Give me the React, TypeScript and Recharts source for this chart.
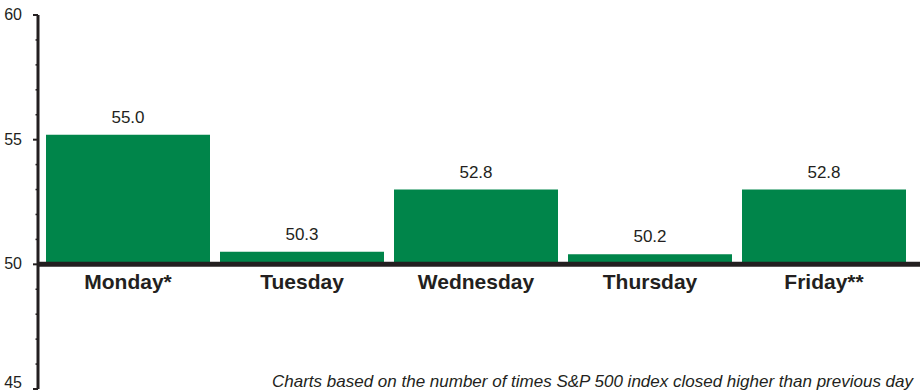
import { Bar, BarChart, LabelList, ReferenceLine, XAxis, YAxis } from "recharts"

const days = ["Monday*", "Tuesday", "Wednesday", "Thursday", "Friday**"]
const pctHigher = [55.0, 50.3, 52.8, 50.2, 52.8]
const yTicks = [45, 46, 47, 48, 49, 50, 51, 52, 53, 54, 55, 56, 57, 58, 59, 60]
const note =
  "Charts based on the number of times S&P 500 index closed higher than previous day"

const data = days.map((day, i) => ({ day, value: pctHigher[i] }))

// bars in the source sit a little above the 50 line
const LIFT = 0.2
const INK = "#231f20"
const GREEN = "#00854a"
const FONT = "'Liberation Sans', Arial, Helvetica, sans-serif"

const YTick = (props: any) => {
  const { x, y, payload } = props
  const major = payload.value % 5 === 0
  // keep the bottom label inside the frame
  const dy = payload.value === 45 ? -1 : 5
  return (
    <g>
      <line
        x1={x - (major ? 5 : 2.5)}
        x2={x}
        y1={y}
        y2={y}
        stroke={INK}
        strokeWidth={major ? 2 : 1.5}
      />
      {major && (
        <text
          x={x - 16}
          y={y}
          dy={dy}
          textAnchor="end"
          fontSize={16}
          fill={INK}
          fontFamily={FONT}
        >
          {payload.value}
        </text>
      )}
    </g>
  )
}

const App = () => {
  return (
    <div
      style={{
        position: "absolute",
        left: 0,
        top: 0,
        width: 920,
        height: 392,
        overflow: "hidden",
        background: "#fff",
        fontFamily: FONT
      }}
    >
      <BarChart
        width={920}
        height={392}
        data={data}
        margin={{ top: 15, right: 0, bottom: 3, left: 0 }}
        barCategoryGap={5}
      >
        <XAxis dataKey="day" hide padding={{ left: 3, right: 9 }} />
        <YAxis
          width={38}
          domain={[45, 60]}
          ticks={yTicks}
          interval={0}
          tickLine={false}
          tickSize={0}
          tickMargin={0}
          axisLine={{ stroke: INK, strokeWidth: 3 }}
          tick={<YTick />}
          allowDataOverflow
        />
        <YAxis yAxisId="bars" hide domain={[45 - LIFT, 60 - LIFT]} allowDataOverflow />
        <Bar
          yAxisId="bars"
          dataKey={(d: any) => [50 - LIFT, d.value]}
          fill={GREEN}
          isAnimationActive={false}
        >
          <LabelList
            dataKey="value"
            position="top"
            offset={12}
            formatter={(v: any) => Number(v).toFixed(1)}
            style={{ fontSize: 17, fill: INK, fontFamily: FONT }}
          />
          <LabelList
            dataKey="day"
            position="bottom"
            offset={10}
            style={{ fontSize: 21, fontWeight: "bold", fill: INK, fontFamily: FONT }}
          />
        </Bar>
        <ReferenceLine y={50} stroke={INK} strokeWidth={5} />
      </BarChart>
      <svg
        width={920}
        height={392}
        style={{ position: "absolute", left: 0, top: 0, pointerEvents: "none" }}
      >
        <text
          x={272}
          y={387}
          fontSize={17}
          fontStyle="italic"
          fill={INK}
          fontFamily={FONT}
        >
          {note}
        </text>
      </svg>
    </div>
  )
}

export default App
